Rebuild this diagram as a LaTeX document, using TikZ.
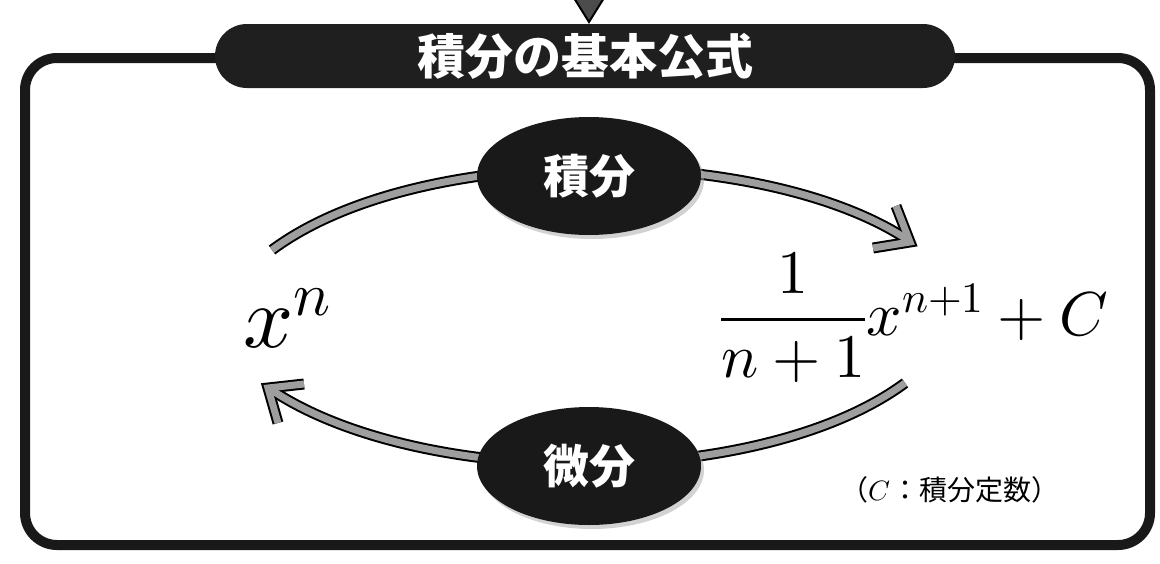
\documentclass[tikz,border=0pt]{standalone}
\usepackage{fontspec}
\usepackage{unicode-math}
\setmathfont{Latin Modern Math}
\newfontfamily\jp{Noto Sans CJK JP}
\usetikzlibrary{shapes.geometric,shadows}
\begin{document}
\begin{tikzpicture}[x=1pt,y=-1pt,
  frame/.style={draw=black!90, line width=10pt, rounded corners=32pt},
  banner/.style={fill=black!88, rounded corners=32pt, minimum width=740pt, minimum height=64pt, inner sep=0pt, text=white, font=\jp\bfseries\fontsize{48}{50}\selectfont},
  blob/.style={ellipse, fill=black!90, minimum width=224pt, minimum height=118pt, inner sep=0pt, text=white, font=\jp\bfseries\fontsize{46}{48}\selectfont, drop shadow={shadow xshift=3pt, shadow yshift=-4pt, fill=black!35}},
  arcout/.style={draw=black, line width=11pt, line join=miter},
  arcin/.style={draw=black!38, line width=7pt, line join=miter},
  mathbig/.style={anchor=base west, inner sep=0pt, font=\fontsize{88}{90}\selectfont},
  mathmid/.style={anchor=base west, inner sep=0pt, font=\fontsize{62}{64}\selectfont},
  note/.style={inner sep=0pt, font=\jp\fontsize{28}{30}\selectfont}
]
\useasboundingbox (0,0) rectangle (1160,563);

% top pointer (partially visible)
\draw[fill=black!70, line width=2pt] (574,-2) -- (604,-2) -- (589,22) -- cycle;

% frame
\draw[frame] (25,58) rectangle (1150,545);

% title banner
\node[banner] (title) at (585,56) {積分の基本公式};

% formulas
\node[mathbig] (xn) at (243,347) {$x^n$};
\node[mathmid] (F) at (720,335) {$\displaystyle\frac{1}{n+1}x^{n+1}+C$};

% arc end points
\coordinate (u1) at (272,250);
\coordinate (u2) at (908,240);
\coordinate (ut) at (910,242);
\coordinate (ub1) at (873,248);
\coordinate (ub2) at (896,206);
\coordinate (l1) at (905,383);
\coordinate (l2) at (270,389);
\coordinate (lt) at (268,388);
\coordinate (lb1) at (304,384);
\coordinate (lb2) at (278,423);

% arcs: outline then fill
\draw[arcout] (u1) .. controls (420,140) and (765,145) .. (u2);
\draw[arcout] (ub1) -- (ut) -- (ub2);
\draw[arcout] (l1) .. controls (760,490) and (420,490) .. (l2);
\draw[arcout] (lb1) -- (lt) -- (lb2);
\draw[arcin] (u1) .. controls (420,140) and (765,145) .. (u2);
\draw[arcin] (ub1) -- (ut) -- (ub2);
\draw[arcin] (l1) .. controls (760,490) and (420,490) .. (l2);
\draw[arcin] (lb1) -- (lt) -- (lb2);

% ellipses
\node[blob] (int) at (589,176) {積分};
\node[blob] (diff) at (589,466) {微分};

% note
\node[note] (cnote) at (950,490) {（$C$：積分定数）};
\end{tikzpicture}
\end{document}
